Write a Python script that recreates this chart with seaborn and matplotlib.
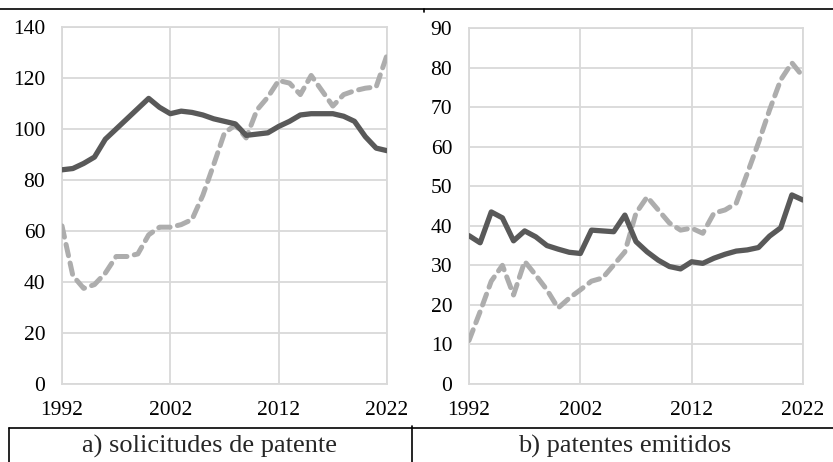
import matplotlib
matplotlib.use("Agg")
import matplotlib.pyplot as plt
import seaborn as sns
import pandas as pd
from matplotlib.lines import Line2D

# datos anuales 1992-2022
years = list(range(1992, 2023))

# a) solicitudes de patente
sol_dark = [84, 84.5, 86.5, 89, 96, 100, 104, 108, 112, 108.5, 106, 107, 106.5, 105.5,
            104, 103, 102, 97.5, 98, 98.5, 101, 103, 105.5, 106, 106, 106, 105, 103,
            97, 92.5, 91.5]
sol_light = [62, 42.5, 37.5, 39, 43.5, 50, 50, 51, 58.5, 61.5, 61.5, 62.5, 64.5, 74,
             86, 98.5, 101.5, 96.5, 107.5, 112.5, 119, 118, 113.5, 121, 115, 109,
             113.5, 115, 116, 116.5, 129]

# b) patentes emitidos
emi_dark = [37.5, 35.7, 43.5, 42, 36.2, 38.7, 37.2, 35, 34.1, 33.3, 33, 38.9, 38.7,
            38.5, 42.7, 36, 33.4, 31.3, 29.7, 29.1, 30.9, 30.5, 31.8, 32.8, 33.6,
            33.9, 34.5, 37.4, 39.5, 47.8, 46.5]
emi_light = [11, 18.3, 26, 30, 22.5, 31, 27.5, 23.8, 19.2, 21.7, 23.8, 26, 26.8, 30.1,
             33.4, 43.2, 47.3, 44, 40.7, 38.9, 39.4, 38.1, 43.2, 44, 45.7, 53.3, 61,
             69.3, 76.9, 81.2, 77.7]

x_ticks = [1992, 2002, 2012, 2022]
titles = ["a) solicitudes de patente", "b) patentes emitidos"]

DARK = "#595959"
LIGHT = "#ADADAD"
GRID = "#D9D9D9"

sns.set_style("white")
plt.rcParams["font.family"] = ["Liberation Serif", "DejaVu Serif"]

fig = plt.figure(figsize=(8.33, 4.62), dpi=100)


def panel(rect, dark, light, ymax, ystep):
    ax = fig.add_axes(rect)
    df = pd.DataFrame({"year": years, "dark": dark, "light": light})
    sns.lineplot(data=df, x="year", y="light", ax=ax, color=LIGHT, lw=3.6,
                 dashes=False, zorder=3)
    sns.lineplot(data=df, x="year", y="dark", ax=ax, color=DARK, lw=3.8, zorder=4)
    ax.lines[0].set_dashes([2.3, 1.5])
    ax.lines[0].set_dash_capstyle("round")
    ax.lines[1].set_solid_joinstyle("round")
    ax.set_xlim(1992, 2022)
    ax.set_ylim(0, ymax)
    ax.set_xticks(x_ticks)
    ax.set_yticks(range(0, ymax + 1, ystep))
    ax.grid(True, color=GRID, lw=1.3)
    ax.set_axisbelow(True)
    for s in ax.spines.values():
        s.set_color(GRID)
        s.set_linewidth(1.3)
    ax.tick_params(length=0, labelsize=15.5, colors="black", pad=12)
    ax.set_xlabel("")
    ax.set_ylabel("")
    return ax


panel([62 / 833, 1 - 384 / 462, 325 / 833, 357 / 462], sol_dark, sol_light, 140, 20)
panel([469 / 833, 1 - 384 / 462, 334 / 833, 356 / 462], emi_dark, emi_light, 90, 10)

# marco tipo tabla
def px_line(x0, y0, x1, y1):
    fig.add_artist(Line2D([x0 / 833, x1 / 833], [1 - y0 / 462, 1 - y1 / 462],
                          color="black", lw=1.2, transform=fig.transFigure))

px_line(0, 9, 833, 9)
px_line(424, 9, 424, 12)
px_line(9, 428, 833, 428)
px_line(9, 428, 9, 462)
px_line(412, 426, 412, 462)

fig.text(210 / 833, 1 - 446 / 462, titles[0], ha="center", va="center", fontsize=19)
fig.text(625 / 833, 1 - 446 / 462, titles[1], ha="center", va="center", fontsize=19)

fig.savefig("out.png", dpi=100)
